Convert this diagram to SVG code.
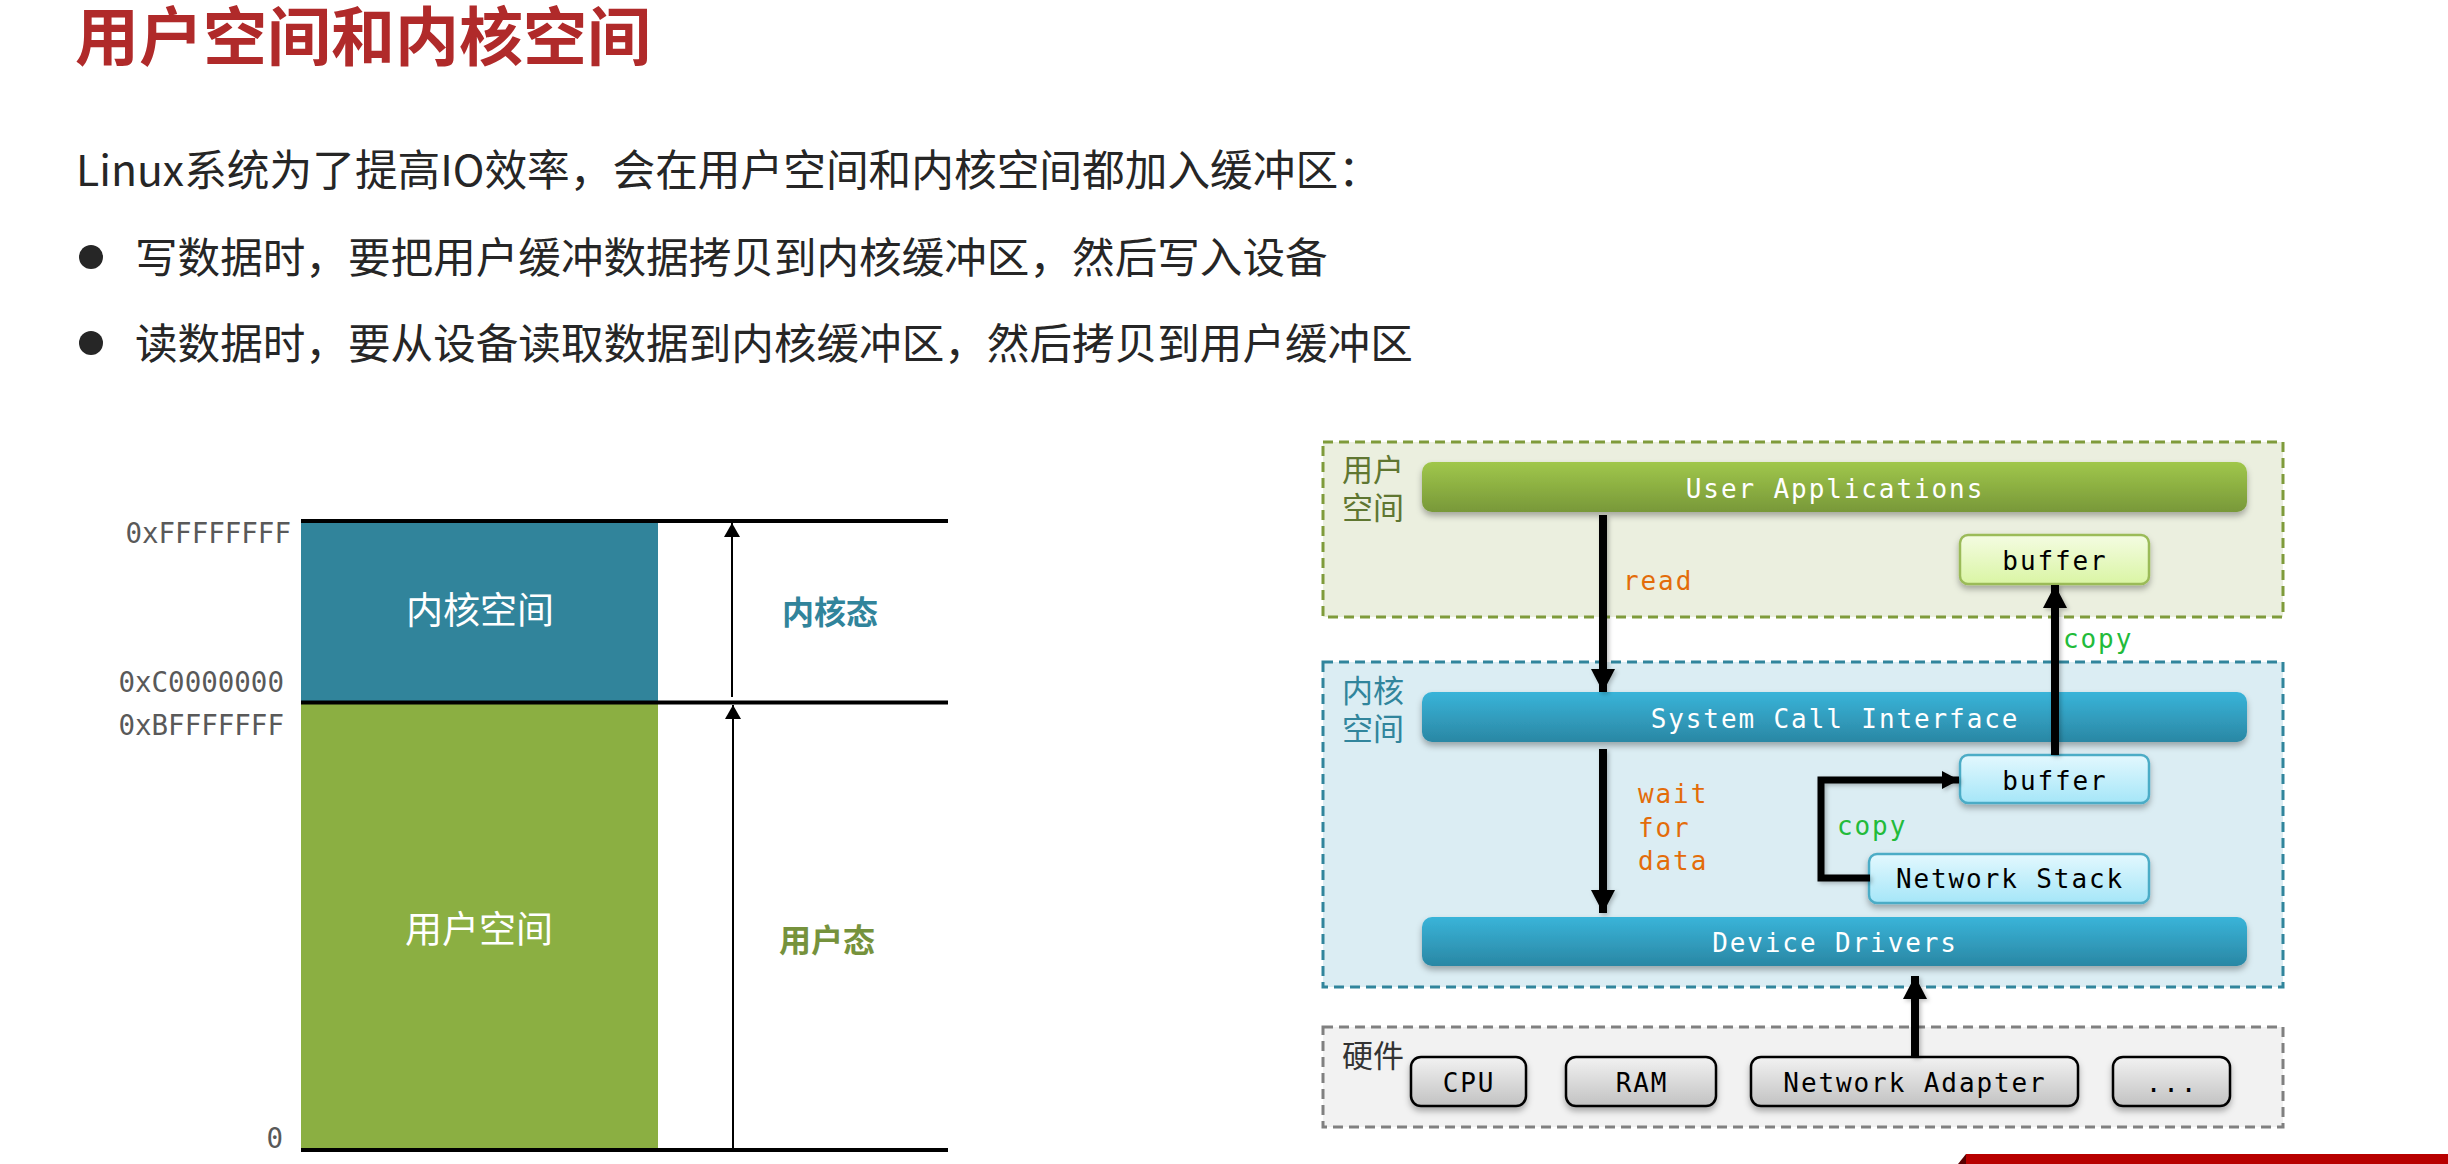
<svg xmlns="http://www.w3.org/2000/svg" width="2448" height="1164" viewBox="0 0 2448 1164">
  <defs>
    <style>
      .cjk { font-family: "Noto Sans CJK SC", "Noto Sans", sans-serif; }
      .title { font-size: 64px; font-weight: 700; fill: #B02A2A; }
      .body { font-size: 42.7px; fill: #262626; }
      .bul { font-size: 42.6px; fill: #262626; }
      .addr { font-family: "DejaVu Sans Mono", monospace; font-size: 27.5px; fill: #595959; text-anchor: end; }
      .blk { font-size: 37px; fill: #FFFFFF; text-anchor: middle; }
      .mode { font-size: 32px; font-weight: 700; text-anchor: middle; }
      .mono { font-family: "DejaVu Sans Mono", monospace; font-size: 26px; letter-spacing: 1.9px; }
      .bar-t { fill: #FFFFFF; text-anchor: middle; }
      .box-t { fill: #000000; text-anchor: middle; }
      .edge-o { fill: #E36C0A; }
      .edge-g { fill: #22BB3A; }
      .region-l { font-size: 31px; }
      .rule { stroke: #000; stroke-width: 4; }
      .thin { stroke: #000; stroke-width: 2; fill: none; }
      .thick { stroke: #000; stroke-width: 8; fill: none; }
    </style>
    <linearGradient id="gGreenBar" x1="0" y1="0" x2="0" y2="1">
      <stop offset="0" stop-color="#A0C74B"/>
      <stop offset="1" stop-color="#789839"/>
    </linearGradient>
    <linearGradient id="gBlueBar" x1="0" y1="0" x2="0" y2="1">
      <stop offset="0" stop-color="#39B4D9"/>
      <stop offset="1" stop-color="#2A87A4"/>
    </linearGradient>
    <linearGradient id="gUserBuf" x1="0" y1="0" x2="0" y2="1">
      <stop offset="0" stop-color="#F4FCE2"/>
      <stop offset="1" stop-color="#DAF5A4"/>
    </linearGradient>
    <linearGradient id="gKernBuf" x1="0" y1="0" x2="0" y2="1">
      <stop offset="0" stop-color="#E3F8FE"/>
      <stop offset="1" stop-color="#A5E6F8"/>
    </linearGradient>
    <linearGradient id="gHw" x1="0" y1="0" x2="0" y2="1">
      <stop offset="0" stop-color="#F2F2F2"/>
      <stop offset="1" stop-color="#C2C2C2"/>
    </linearGradient>
    <filter id="shadow" x="-10%" y="-30%" width="120%" height="170%">
      <feDropShadow dx="0" dy="4" stdDeviation="3" flood-color="#000" flood-opacity="0.3"/>
    </filter>
    <filter id="softShadow" x="-50%" y="-10%" width="200%" height="120%">
      <feDropShadow dx="2" dy="2" stdDeviation="2" flood-color="#000" flood-opacity="0.25"/>
    </filter>
    <marker id="headThin" markerUnits="userSpaceOnUse" markerWidth="14" markerHeight="16" refX="14" refY="8" orient="auto">
      <path d="M0,0 L14,8 L0,16 z" fill="#000"/>
    </marker>
    <marker id="headBig" markerUnits="userSpaceOnUse" markerWidth="23" markerHeight="24" refX="23" refY="12" orient="auto">
      <path d="M0,0 L23,12 L0,24 z" fill="#000"/>
    </marker>
    <marker id="headMid" markerUnits="userSpaceOnUse" markerWidth="17" markerHeight="18" refX="17" refY="9" orient="auto">
      <path d="M0,0 L17,9 L0,18 z" fill="#000"/>
    </marker>
  </defs>

  <rect width="2448" height="1164" fill="#FFFFFF"/>

  <!-- heading and explanation -->
  <g id="heading">
    <text class="cjk title" x="75" y="60">用户空间和内核空间</text>
    <text class="cjk body" x="76" y="186">Linux系统为了提高IO效率，会在用户空间和内核空间都加入缓冲区：</text>
    <circle cx="91" cy="257" r="12" fill="#262626"/>
    <text class="cjk bul" x="135" y="273">写数据时，要把用户缓冲数据拷贝到内核缓冲区，然后写入设备</text>
    <circle cx="91" cy="343" r="12" fill="#262626"/>
    <text class="cjk bul" x="135" y="359">读数据时，要从设备读取数据到内核缓冲区，然后拷贝到用户缓冲区</text>
  </g>

  <!-- address space layout -->
  <g id="address-space">
    <rect x="301" y="523" width="357" height="178" fill="#31849B"/>
    <rect x="301" y="704" width="357" height="444" fill="#8BAF42"/>
    <line class="rule" x1="301" y1="521" x2="948" y2="521"/>
    <line class="rule" x1="301" y1="702.5" x2="948" y2="702.5"/>
    <line class="rule" x1="301" y1="1150" x2="948" y2="1150"/>
    <text class="addr" x="291" y="543">0xFFFFFFFF</text>
    <text class="addr" x="284" y="692">0xC0000000</text>
    <text class="addr" x="284" y="735">0xBFFFFFFF</text>
    <text class="addr" x="283" y="1148">0</text>
    <text class="cjk blk" x="480" y="624">内核空间</text>
    <text class="cjk blk" x="479" y="943">用户空间</text>
    <line class="thin" x1="732" y1="697" x2="732" y2="523" marker-end="url(#headThin)"/>
    <line class="thin" x1="733" y1="1148" x2="733" y2="705" marker-end="url(#headThin)"/>
    <text class="cjk mode" x="830" y="624" fill="#31849B">内核态</text>
    <text class="cjk mode" x="827" y="952" fill="#76923C">用户态</text>
  </g>

  <!-- regions -->
  <g id="user-space">
    <rect x="1323" y="442" width="960" height="175" fill="#EBEFDF" stroke="#7F9B3B" stroke-width="3" stroke-dasharray="10 6"/>
    <text class="cjk region-l" fill="#5F7631"><tspan x="1342" y="481">用户</tspan><tspan x="1342" y="519">空间</tspan></text>
  </g>
  <g id="kernel-space">
    <rect x="1323" y="662" width="960" height="325" fill="#DBEDF3" stroke="#31859C" stroke-width="3" stroke-dasharray="10 6"/>
    <text class="cjk region-l" fill="#31859C"><tspan x="1342" y="702">内核</tspan><tspan x="1342" y="740">空间</tspan></text>
  </g>
  <g id="hardware">
    <rect x="1323" y="1027" width="960" height="100" fill="#F2F2F2" stroke="#808080" stroke-width="3" stroke-dasharray="10 6"/>
    <text class="cjk region-l" x="1342" y="1067" fill="#333333">硬件</text>
  </g>

  <!-- stack nodes -->
  <g id="user-applications">
    <rect x="1422" y="462" width="825" height="50" rx="10" fill="url(#gGreenBar)" filter="url(#shadow)"/>
    <text class="mono bar-t" x="1835" y="498">User Applications</text>
  </g>
  <g id="user-buffer">
    <rect x="1960" y="535" width="189" height="49" rx="8" fill="url(#gUserBuf)" stroke="#9BBB59" stroke-width="2.5" filter="url(#shadow)"/>
    <text class="mono box-t" x="2055" y="570">buffer</text>
  </g>
  <g id="system-call-interface">
    <rect x="1422" y="692" width="825" height="50" rx="10" fill="url(#gBlueBar)" filter="url(#shadow)"/>
    <text class="mono bar-t" x="1835" y="728">System Call Interface</text>
  </g>
  <g id="kernel-buffer">
    <rect x="1960" y="755" width="189" height="48" rx="8" fill="url(#gKernBuf)" stroke="#4BACC6" stroke-width="2.5" filter="url(#shadow)"/>
    <text class="mono box-t" x="2055" y="790">buffer</text>
  </g>
  <g id="network-stack">
    <rect x="1869" y="854" width="280" height="49" rx="8" fill="url(#gKernBuf)" stroke="#4BACC6" stroke-width="2.5" filter="url(#shadow)"/>
    <text class="mono box-t" x="2010" y="888">Network Stack</text>
  </g>
  <g id="device-drivers">
    <rect x="1422" y="917" width="825" height="49" rx="10" fill="url(#gBlueBar)" filter="url(#shadow)"/>
    <text class="mono bar-t" x="1835" y="952">Device Drivers</text>
  </g>
  <g id="cpu">
    <rect x="1411" y="1057" width="115" height="49" rx="10" fill="url(#gHw)" stroke="#000" stroke-width="2.5" filter="url(#shadow)"/>
    <text class="mono box-t" x="1469" y="1092">CPU</text>
  </g>
  <g id="ram">
    <rect x="1566" y="1057" width="150" height="49" rx="10" fill="url(#gHw)" stroke="#000" stroke-width="2.5" filter="url(#shadow)"/>
    <text class="mono box-t" x="1642" y="1092">RAM</text>
  </g>
  <g id="network-adapter">
    <rect x="1751" y="1057" width="327" height="49" rx="10" fill="url(#gHw)" stroke="#000" stroke-width="2.5" filter="url(#shadow)"/>
    <text class="mono box-t" x="1915" y="1092">Network Adapter</text>
  </g>
  <g id="more-devices">
    <rect x="2113" y="1057" width="117" height="49" rx="10" fill="url(#gHw)" stroke="#000" stroke-width="2.5" filter="url(#shadow)"/>
    <text class="mono box-t" x="2172" y="1092">...</text>
  </g>

  <!-- data flow connectors -->
  <g id="connectors" filter="url(#softShadow)">
    <path class="thick" d="M1603 515 V692" marker-end="url(#headBig)"/>
    <path class="thick" d="M1603 749 V913" marker-end="url(#headBig)"/>
    <path class="thick" d="M2055 755 V585" marker-end="url(#headBig)"/>
    <path class="thick" d="M1915 1057 V976" marker-end="url(#headBig)"/>
    <path d="M1870 878 H1821 V780 H1959" fill="none" stroke="#000" stroke-width="7" stroke-linejoin="miter" marker-end="url(#headMid)"/>
  </g>
  <g id="connector-labels">
    <text class="mono edge-o" x="1623" y="590">read</text>
    <text class="mono edge-o" x="1638" y="803">wait</text>
    <text class="mono edge-o" x="1638" y="837">for</text>
    <text class="mono edge-o" x="1638" y="870">data</text>
    <text class="mono edge-g" x="2063" y="648">copy</text>
    <text class="mono edge-g" x="1837" y="835">copy</text>
  </g>

  <!-- corner ribbon -->
  <g id="ribbon">
    <polygon points="1958,1164 1966,1154 1972,1164" fill="#5A0000"/>
    <rect x="1966" y="1154" width="482" height="10" fill="#B80000"/>
  </g>
</svg>
